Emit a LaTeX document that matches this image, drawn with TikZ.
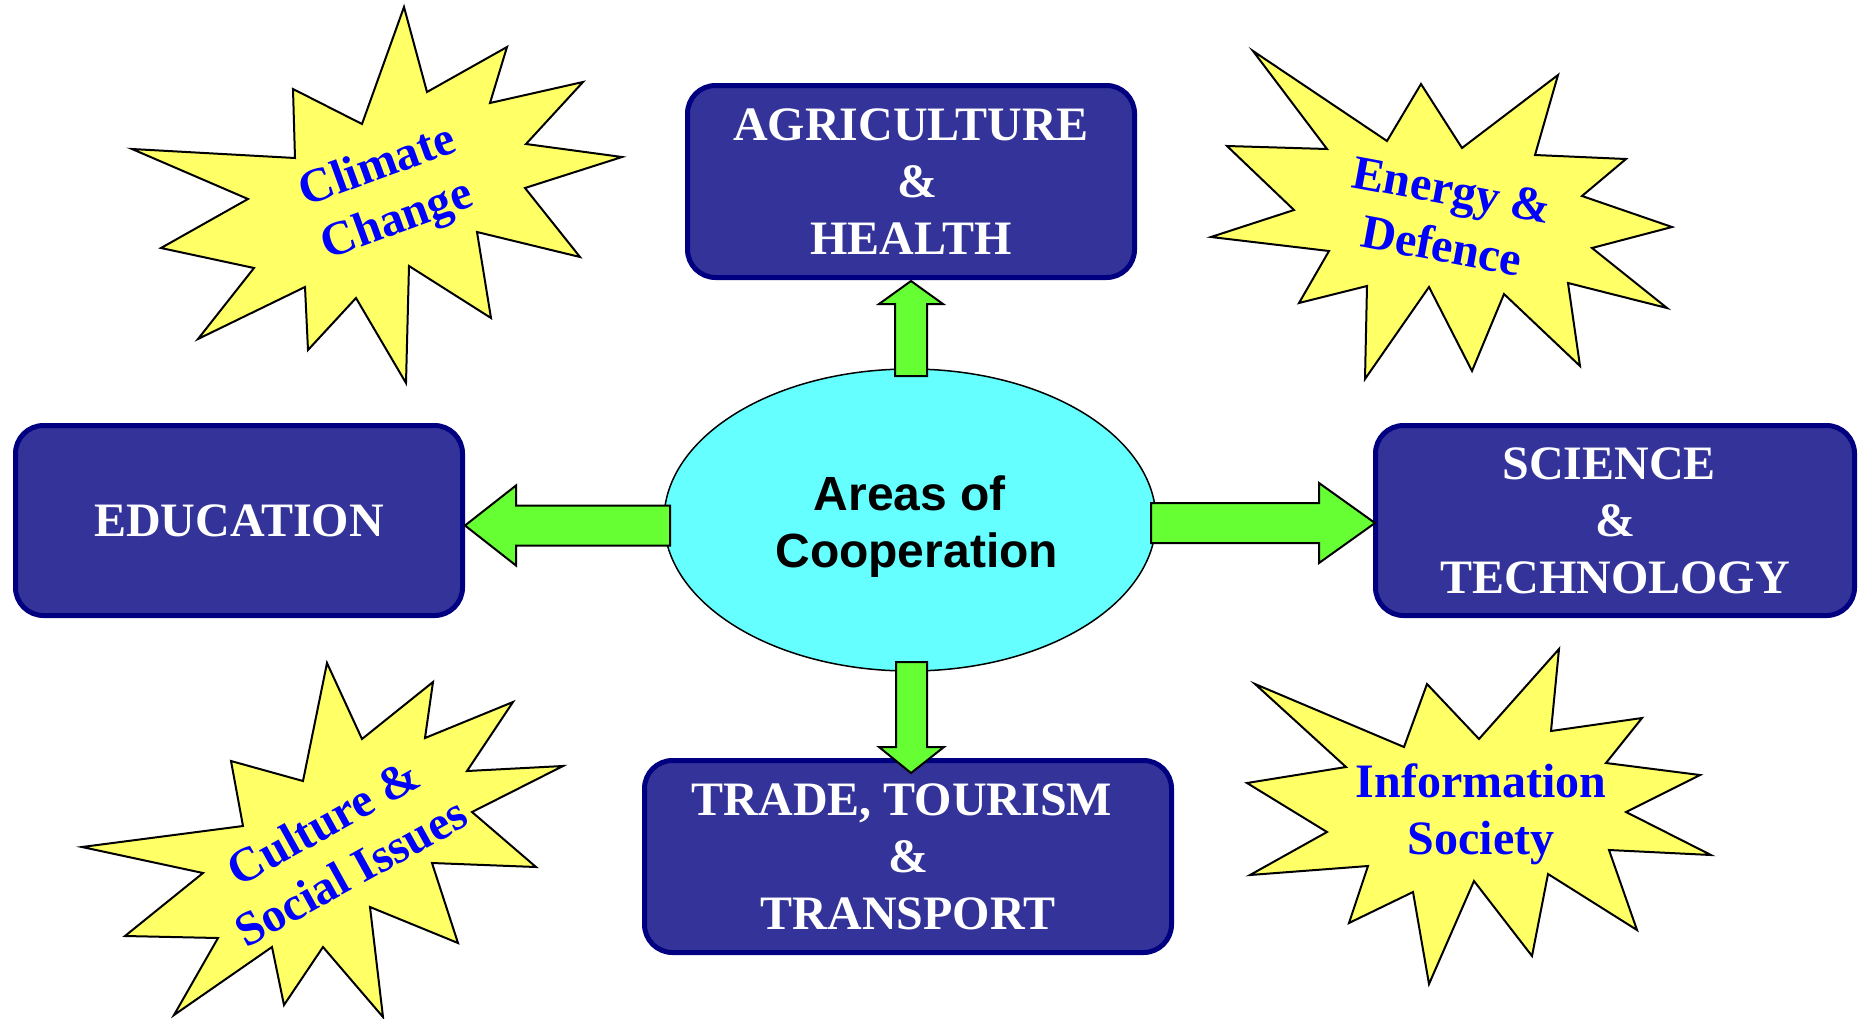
\documentclass[tikz,border=0pt]{standalone}
\usepackage{fontspec}
\setmainfont{Liberation Serif}
\newfontfamily\arialfont{Liberation Sans}
\usetikzlibrary{shapes.geometric,calc}
\definecolor{boxfill}{HTML}{333399}
\definecolor{boxline}{HTML}{000080}
\definecolor{ellfill}{HTML}{66FFFF}
\definecolor{arrowfill}{HTML}{66FF33}
\definecolor{starfill}{HTML}{FFFF66}
\definecolor{startext}{HTML}{0000FF}
\begin{document}
\begin{tikzpicture}[x=0.5pt,y=-0.5pt,
  areabox/.style={draw=boxline, fill=boxfill, line width=2.5pt, rounded corners=14pt,
    text=white, font=\bfseries\fontsize{24}{28.5}\selectfont, align=center, inner sep=0pt},
  hub/.style={ellipse, draw=black, fill=ellfill, line width=0.75pt, minimum width=246pt,
    minimum height=151pt, inner sep=0pt},
  hubtext/.style={font=\arialfont\bfseries\fontsize{24}{28.5}\selectfont, align=center, inner sep=0pt},
  blockarrow/.style={draw=black, fill=arrowfill, line width=1pt, line join=miter},
  burst/.style={draw=black, fill=starfill, line width=1pt, line join=miter},
  bursttext/.style={text=startext, font=\bfseries\fontsize{24}{28.5}\selectfont, align=center, inner sep=0pt}
]
\useasboundingbox (0,0) rectangle (1859,1018);

% --- bursts ---
\draw[burst] (404,7) -- (427,92) -- (507,47) -- (490,103) -- (583,82) -- (526,144) -- (622,157)
  -- (525,188) -- (580,257) -- (477,232) -- (491,318) -- (409,266) -- (406,383) -- (356,298)
  -- (308,350) -- (305,287) -- (198,339) -- (254,268) -- (161,248) -- (248,199) -- (132,149)
  -- (295,158) -- (293,89) -- (362,124) -- cycle;
\node[bursttext, rotate=20] (climate) at (388,195) {Climate\\Change};

\draw[burst] (1253,51) -- (1387,141) -- (1421,84) -- (1462,148) -- (1558,75) -- (1535,155)
  -- (1626,159) -- (1582,196) -- (1672,227) -- (1592,248) -- (1667,308) -- (1568,283)
  -- (1580,366) -- (1504,294) -- (1472,371) -- (1429,287) -- (1365,379) -- (1367,286)
  -- (1299,303) -- (1329,251) -- (1211,237) -- (1294,210) -- (1227,146) -- (1327,149) -- cycle;
\node[bursttext, rotate=-10.5] (energy) at (1447,218) {Energy \&\\Defence};

\draw[burst] (327,663) -- (362,739) -- (433,682) -- (425,738) -- (513,702) -- (467,771)
  -- (563,766) -- (472,812) -- (536,867) -- (432,863) -- (458,943) -- (370,907) -- (383,1017)
  -- (323,947) -- (284,1005) -- (272,947) -- (174,1015) -- (218,938) -- (125,936) -- (203,873)
  -- (82,847) -- (243,826) -- (231,761) -- (303,781) -- cycle;
\node[bursttext, rotate=29] (culture) at (337,847) {Culture \&\\Social Issues};

\draw[burst] (1559,649) -- (1551,731) -- (1642,718) -- (1606,763) -- (1700,775) -- (1626,812)
  -- (1711,855) -- (1609,850) -- (1637,930) -- (1548,874) -- (1532,956) -- (1474,881)
  -- (1429,984) -- (1413,892) -- (1349,923) -- (1368,866) -- (1250,875) -- (1327,832)
  -- (1247,783) -- (1346,767) -- (1255,684) -- (1404,747) -- (1427,684) -- (1479,739) -- cycle;
\node[bursttext] (info) at (1481,814) {Information\\Society};

% --- boxes ---
\node[areabox, minimum width=223.5pt, minimum height=96pt] (agri) at (911,181.5) {AGRICULTURE\\\ \&\\HEALTH};
\node[areabox, minimum width=223.5pt, minimum height=95pt] (edu) at (239,520.5) {EDUCATION};
\node[areabox, minimum width=239.5pt, minimum height=95pt] (sci) at (1615,520.5) {\mbox{SCIENCE\ }\\\&\\TECHNOLOGY};
\node[areabox, minimum width=263.5pt, minimum height=96pt] (trade) at (908,856.5) {\mbox{TRADE, TOURISM\ }\\\&\\TRANSPORT};

% --- hub ---
\node[hub] (coop) at (910,520) {};
\node[hubtext] (cooptext) at ($(coop.center)+(0,7)$) {Areas of\\\ Cooperation};

% --- block arrows ---
\draw[blockarrow] ($(agri.south)+(0,1)$) -- ++(32,23) -- ++(-16,0) -- ++(0,72) -- ++(-32,0)
  -- ++(0,-72) -- ++(-16,0) -- cycle;
\draw[blockarrow] ($(trade.north)+(3,15)$) -- ++(33,-26) -- ++(-17,0) -- ++(0,-85) -- ++(-31,0)
  -- ++(0,85) -- ++(-17,0) -- cycle;
\draw[blockarrow] ($(edu.east)+(0,5)$) -- ++(51,-40) -- ++(0,20) -- ++(154,0) -- ++(0,40)
  -- ++(-154,0) -- ++(0,20) -- cycle;
\draw[blockarrow] ($(sci.west)+(2,2.5)$) -- ++(-56,-40) -- ++(0,20) -- ++(-168,0) -- ++(0,40)
  -- ++(168,0) -- ++(0,20) -- cycle;
\end{tikzpicture}
\end{document}
